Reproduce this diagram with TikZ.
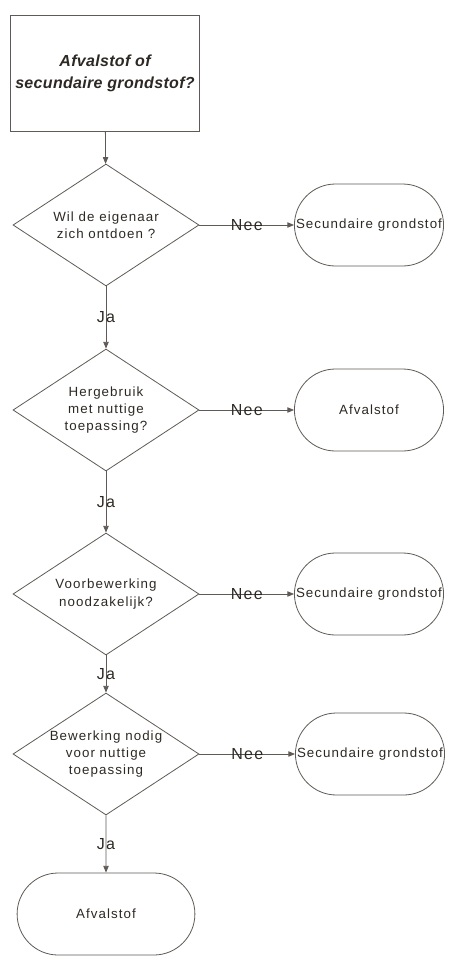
\documentclass[tikz,border=0pt]{standalone}
\usepackage{fontspec}
\setmainfont{Liberation Sans}
\newfontfamily\flowfont[LetterSpace=8]{Liberation Sans}
\newfontfamily\titlefont[LetterSpace=2]{Liberation Sans}
\definecolor{inkgray}{RGB}{45, 40, 35}
\definecolor{linegray}{RGB}{95, 90, 85}
\usetikzlibrary{shapes.geometric, shapes.misc, arrows.meta}

\begin{document}
\begin{tikzpicture}[
  x=0.75pt, y=-0.75pt,
  every node/.style={text=inkgray},
  qbox/.style={draw=linegray, line width=0.6pt, minimum width=139.5pt, minimum height=87pt, align=center, font=\titlefont\fontsize{12}{16.5}\selectfont\bfseries\itshape},
  keuze/.style={diamond, aspect=1.55, draw=linegray, line width=0.6pt, minimum width=139.5pt, minimum height=91.5pt, inner sep=0pt, align=center, font=\flowfont\fontsize{10}{13}\selectfont},
  einde/.style={rounded rectangle, draw=linegray, line width=0.6pt, minimum width=118.5pt, minimum height=61.5pt, align=center, font=\flowfont\fontsize{10}{13}\selectfont},
  pijl/.style={draw=linegray, line width=0.6pt, -{Triangle[length=5pt, width=4pt]}},
  lbl/.style={inner sep=0pt, font=\flowfont\fontsize{12}{14}\selectfont}
]
  \useasboundingbox (0, 0) rectangle (449, 957);

  \node[qbox] (vraag) at (105, 73) {Afvalstof of\\secundaire grondstof?};

  \node[keuze] (wil) at (106, 225) {Wil de eigenaar\\zich ontdoen ?};
  \node[einde] (sec1) at (369, 225) {Secundaire grondstof};

  \node[keuze] (hergebruik) at (106, 410) {Hergebruik\\met nuttige\\toepassing?};
  \node[einde] (afval1) at (369, 410) {Afvalstof};

  \node[keuze] (voorbew) at (106, 594) {Voorbewerking\\noodzakelijk?};
  \node[einde] (sec2) at (369, 594) {Secundaire grondstof};

  \node[keuze] (bewerking) at (106, 754) {Bewerking nodig\\voor nuttige\\toepassing};
  \node[einde] (sec3) at (370, 754) {Secundaire grondstof};

  \node[einde, minimum width=140pt] (afval2) at (106, 914) {Afvalstof};

  % Connectors
  \draw[pijl] (vraag) -- (wil);
  \draw[pijl] (wil) -- node[lbl] {Nee} (sec1);
  \draw[pijl] (wil) -- node[lbl] {Ja} (hergebruik);
  \draw[pijl] (hergebruik) -- node[lbl] {Nee} (afval1);
  \draw[pijl] (hergebruik) -- node[lbl] {Ja} (voorbew);
  \draw[pijl] (voorbew) -- node[lbl] {Nee} (sec2);
  \draw[pijl] (voorbew) -- node[lbl] {Ja} (bewerking);
  \draw[pijl] (bewerking) -- node[lbl] {Nee} (sec3);
  \draw[pijl] (bewerking) -- node[lbl] {Ja} (afval2);
\end{tikzpicture}
\end{document}
